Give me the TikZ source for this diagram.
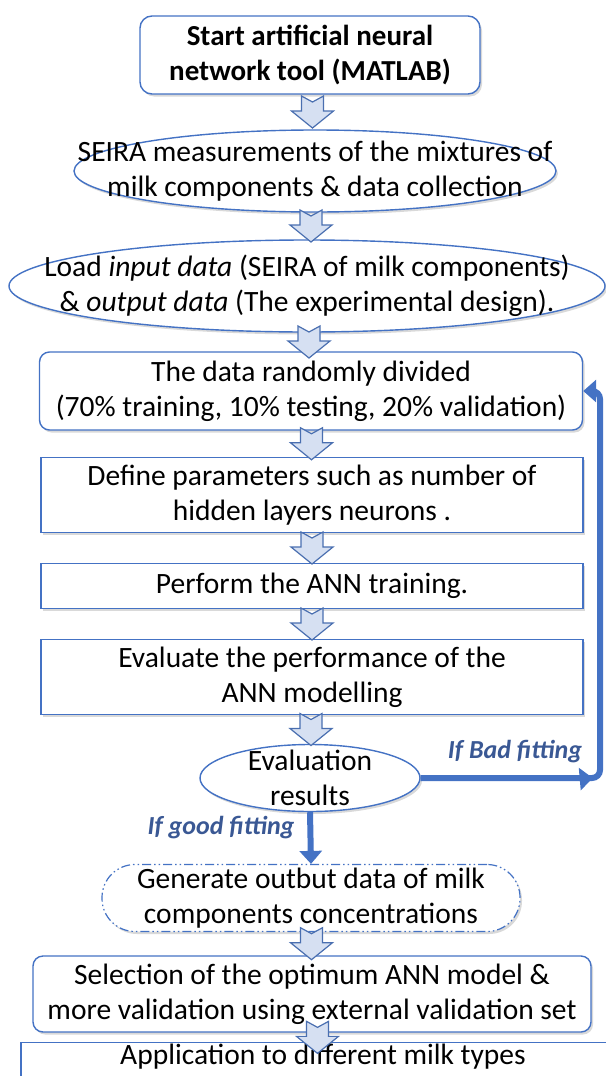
\documentclass[tikz,border=0pt]{standalone}
\usepackage{fontspec}
\setmainfont{Carlito}
\usetikzlibrary{arrows.meta,shapes.geometric,shadows,calc,decorations.markings}

\definecolor{boxblue}{HTML}{4472C4}
\definecolor{arrowfill}{HTML}{D6E0F2}
\definecolor{arrowline}{HTML}{4A6FB0}
\definecolor{labelblue}{HTML}{3A5894}

\begin{document}
\begin{tikzpicture}[x=1pt,y=-1pt,
font=\fontsize{29.5}{35}\selectfont,
shade/.style={drop shadow={shadow xshift=2pt,shadow yshift=-2.5pt,opacity=.3}},
rbox/.style={draw=boxblue,line width=1.4pt,fill=white,rounded corners=10pt,align=center,shade},
sbox/.style={draw=boxblue,line width=1.4pt,fill=white,align=center,shade},
oval/.style={ellipse,draw=boxblue,line width=1.4pt,fill=white,inner sep=0pt,shade},
ovaltext/.style={label={[align=center]center:{#1}}},
cloud/.style={draw=boxblue,line width=1.2pt,fill=white,rounded corners=33pt,align=center,
  dash pattern=on 9pt off 3pt on 1.5pt off 3pt on 1.5pt off 3pt,shade},
fitlabel/.style={font=\fontsize{26}{30}\selectfont\bfseries\itshape,text=labelblue},
fitarrow/.style={draw=boxblue,line width=6pt,-{Triangle[length=13pt,width=22pt]}},
blockarrow/.pic={
  \draw[fill=arrowfill,draw=arrowline,line width=1.2pt,line join=miter]
    (-11,-16) -- (0,-10) -- (11,-16) -- (11,-1) -- (21,-1) -- (0,16)
    -- (-21,-1) -- (-11,-1) -- cycle;}
]
\useasboundingbox (0,0) rectangle (605,1076);

\node[rbox,minimum width=340,minimum height=78,rounded corners=12pt,font=\fontsize{29}{35}\selectfont\bfseries](start) at (310,55) {Start artificial neural\\network tool (MATLAB)};

\node[oval,minimum width=482,minimum height=82,ovaltext={SEIRA measurements of the mixtures of\\milk components \& data collection}](seira) at (315,171) {};

\node[oval,minimum width=596,minimum height=92,ovaltext={Load \textit{input data} (SEIRA of milk components)\\\& \textit{output data} (The experimental design).}](load) at (307,286) {};

\node[rbox,minimum width=543,minimum height=78](divide) at (311,391) {The data randomly divided\\(70\% training, 10\% testing, 20\% validation)};

\node[sbox,minimum width=542,minimum height=75](params) at (312,495) {Define parameters such as number of\\hidden layers neurons .};

\node[sbox,minimum width=542,minimum height=45](train) at (312,586) {Perform the ANN training.};

\node[sbox,minimum width=542,minimum height=75](evaluate) at (312,677) {Evaluate the performance of the\\ANN modelling};

\node[oval,minimum width=220,minimum height=67,ovaltext={Evaluation\\results}](results) at (310,778) {};

\node[cloud,minimum width=418,minimum height=67](generate) at (311,898) {Generate outbut data of milk\\components concentrations};

\node[rbox,minimum width=558,minimum height=76](select) at (312,994) {Selection of the optimum ANN model \&\\more validation using external validation set};

\node[sbox,anchor=north,minimum width=604,inner ysep=1pt,text depth=40pt](apply) at (323,1042) {Application to different milk types};

% block arrows between the steps
\foreach \a/\b in {start/seira,seira/load,load/divide,divide/params,params/train,train/evaluate,evaluate/results,generate/select,select/apply}
  \pic at ($(\a.south)!0.5!(\b.north)$) {blockarrow};

% decision
\draw[fitarrow] (results.south) -- (generate.north);

\draw[draw=boxblue,line width=6pt,rounded corners=8pt,
  postaction={decorate},
  decoration={markings,mark=at position 172pt with {\arrow{Triangle[length=13pt,width=22pt]}}},
  -{Triangle[length=13pt,width=22pt]}]
  (results.east) -- (600,778) -- (600,391) -- (divide.east);

\node[fitlabel](badlbl) at (515,752) {If Bad fitting};

\node[fitlabel,anchor=east](goodlbl) at (298,828) {If good fitting};
\end{tikzpicture}
\end{document}
